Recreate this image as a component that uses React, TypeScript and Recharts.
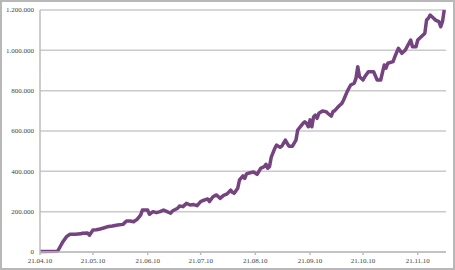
import React from "react";
import { LineChart, Line, XAxis, YAxis, CartesianGrid } from "recharts";

// day offset from 21.04.10
const days: number[] = [
  0, 10, 11, 13, 15, 17, 20, 23, 24, 27, 28, 30, 32, 34, 36, 38, 41, 44, 47, 49,
  51, 53, 55, 57, 58, 61, 62, 64, 66, 68, 70, 72, 74, 75, 78, 79, 81, 83, 85, 87,
  89, 91, 92, 95, 96, 98, 100, 102, 104, 106, 108, 109, 110, 112, 113, 115, 116, 117, 119, 121,
  123, 125, 127, 128, 129, 130, 131, 133, 134, 136, 137, 139, 140, 141, 143, 145, 146, 149, 150, 151,
  152, 153, 154, 155, 156, 157, 158, 160, 162, 163, 165, 166, 167, 169, 170, 171, 172, 174, 175, 176,
  178, 179, 180, 181, 183, 184, 186, 189, 191, 193, 195, 196, 197, 200, 201, 203, 205, 207, 210, 211,
  213, 214, 217, 218, 219, 220, 221, 223, 224, 226, 227, 228, 229,
];

const visits: number[] = [
  2000, 4000, 20000, 51000, 76000, 88000, 88000, 90000, 93000, 94000, 83000, 109000, 110000, 114000, 119000, 125000, 129000, 134000, 137000, 154000,
  154000, 150000, 162000, 183000, 208000, 208000, 187000, 200000, 195000, 200000, 208000, 200000, 192000, 203000, 217000, 228000, 225000, 241000, 233000, 235000,
  230000, 250000, 254000, 263000, 250000, 274000, 283000, 266000, 281000, 288000, 307000, 296000, 291000, 316000, 357000, 377000, 365000, 387000, 393000, 397000,
  385000, 415000, 423000, 435000, 415000, 423000, 470000, 514000, 530000, 519000, 525000, 555000, 539000, 525000, 525000, 555000, 605000, 638000, 646000, 638000,
  621000, 655000, 621000, 671000, 679000, 663000, 688000, 699000, 696000, 688000, 674000, 696000, 701000, 721000, 729000, 737000, 754000, 795000, 812000, 828000,
  837000, 861000, 919000, 869000, 853000, 869000, 894000, 894000, 853000, 853000, 927000, 911000, 936000, 944000, 968000, 1010000, 985000, 1002000, 1051000, 1018000,
  1018000, 1051000, 1076000, 1084000, 1150000, 1159000, 1175000, 1159000, 1150000, 1142000, 1117000, 1142000, 1200000,
];

const xTicks: number[] = [0, 30, 61, 91, 122, 153, 183, 214];
const xTickLabels: string[] = ["21.04.10", "21.05.10", "21.06.10", "21.07.10", "21.08.10", "21.09.10", "21.10.10", "21.11.10"];
const yTicks: number[] = [0, 200000, 400000, 600000, 800000, 1000000, 1200000];

const data = days.map((d, i) => ({ day: d, value: visits[i] }));

const fmtY = (v: number) => String(v).replace(/\B(?=(\d{3})+(?!\d))/g, ".");
const fmtX = (v: number) => {
  const i = xTicks.indexOf(v);
  return i >= 0 ? xTickLabels[i] : "";
};

const tickStyle = { fontFamily: "Liberation Serif", fontSize: 7, fill: "#444" };

export default function App() {
  return (
    <div style={{ position: "absolute", left: 0, top: 0, width: 455, height: 270, background: "#fff" }}>
      <LineChart width={455} height={270} data={data} margin={{ top: 10, right: 9, bottom: 0, left: 0 }}>
        <CartesianGrid horizontal vertical={false} stroke="#cacaca" strokeWidth={1.5} />
        <XAxis
          dataKey="day"
          type="number"
          domain={[0, 230]}
          ticks={xTicks}
          tickFormatter={fmtX}
          height={18}
          tick={tickStyle}
          stroke="#bdbdbd"
          strokeWidth={1.5}
          tickSize={3}
          tickMargin={3}
          interval={0}
        />
        <YAxis
          type="number"
          domain={[0, 1200000]}
          ticks={yTicks}
          tickFormatter={fmtY}
          width={40}
          tick={tickStyle}
          stroke="#bdbdbd"
          strokeWidth={1.5}
          tickLine={false}
          tickSize={0}
          tickMargin={6}
          interval={0}
        />
        <Line
          type="linear"
          dataKey="value"
          stroke="#75437f"
          strokeWidth={3.5}
          dot={false}
          isAnimationActive={false}
          strokeLinejoin="round"
        />
      </LineChart>
      <div
        style={{
          position: "absolute",
          left: 0,
          top: 0,
          width: 455,
          height: 270,
          boxSizing: "border-box",
          border: "2px solid #b8b8b8",
          pointerEvents: "none",
        }}
      />
    </div>
  );
}
